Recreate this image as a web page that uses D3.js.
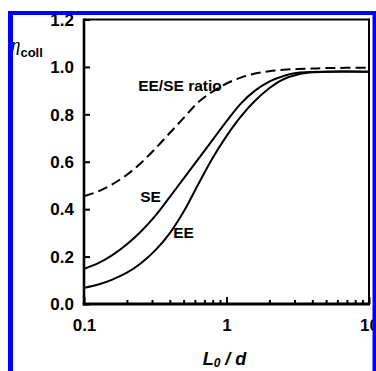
<!DOCTYPE html>
<html>
<head>
<meta charset="utf-8">
<script src="https://cdn.jsdelivr.net/npm/d3@7"></script>
<style>
  html, body { margin: 0; padding: 0; background: #fff; }
  svg { display: block; }
</style>
</head>
<body>
<svg id="chart" width="376" height="371"></svg>
<script>
// ---- data ----
const xValues = [0.1, 0.126, 0.158, 0.2, 0.251, 0.316, 0.398, 0.501, 0.631, 0.794, 1.0, 1.259, 1.585, 1.995, 2.512, 3.162, 3.981, 5.012, 10];
const seValues    = [0.148, 0.172, 0.206, 0.252, 0.306, 0.372, 0.45, 0.53, 0.61, 0.69, 0.77, 0.845, 0.90, 0.938, 0.962, 0.975, 0.979, 0.98, 0.98];
const eeValues    = [0.068, 0.082, 0.103, 0.132, 0.172, 0.226, 0.297, 0.39, 0.503, 0.613, 0.708, 0.79, 0.857, 0.91, 0.948, 0.968, 0.977, 0.98, 0.98];
const ratioValues = [0.455, 0.475, 0.505, 0.545, 0.595, 0.655, 0.72, 0.785, 0.85, 0.895, 0.93, 0.955, 0.972, 0.982, 0.988, 0.991, 0.993, 0.995, 0.997];
const xMajorTicks = [0.1, 1, 10];
const xTickLabels = ["0.1", "1", "10"];
const xMinorTicks = [0.2,0.3,0.4,0.5,0.6,0.7,0.8,0.9,2,3,4,5,6,7,8,9];
const yTicks = [0, 0.2, 0.4, 0.6, 0.8, 1.0, 1.2];
const yTickLabels = ["0.0","0.2","0.4","0.6","0.8","1.0","1.2"];
const curveLabels = [
  {text: "EE/SE ratio", x: 0.24, y: 0.90},
  {text: "SE", x: 0.248, y: 0.431},
  {text: "EE", x: 0.423, y: 0.279}
];

// ---- layout ----
const svg = d3.select("#chart");
const L = 84, R = 369, T = 19.5, B = 304;
const x = d3.scaleLog().domain([0.1, 10]).range([L, R]);
const y = d3.scaleLinear().domain([0, 1.2]).range([B, T]);
const sans = "'Liberation Sans', Arial, Helvetica, sans-serif";

// axes
const gy = svg.append("g").attr("transform", `translate(${L},0)`)
  .call(d3.axisLeft(y).tickValues(yTicks).tickSize(-6).tickFormat((d,i)=>yTickLabels[i]));
gy.select(".domain").remove();
gy.selectAll(".tick line").attr("stroke", "#000").attr("stroke-width", 2);
gy.selectAll(".tick text").attr("x", -10).attr("dy", "0.34em")
  .attr("font-family", sans).attr("font-weight", "bold").attr("font-size", 17).attr("fill", "#000");

const gx = svg.append("g").attr("transform", `translate(0,${B})`)
  .call(d3.axisBottom(x).tickValues(xMajorTicks).tickSize(-7).tickFormat((d,i)=>xTickLabels[i]));
gx.select(".domain").remove();
gx.selectAll(".tick line").attr("stroke", "#000").attr("stroke-width", 2);
gx.selectAll(".tick text").attr("y", 27).attr("dy", 0)
  .attr("font-family", sans).attr("font-weight", "bold").attr("font-size", 17).attr("fill", "#000");

const gxm = svg.append("g").attr("transform", `translate(0,${B})`)
  .call(d3.axisBottom(x).tickValues(xMinorTicks).tickSize(-4).tickFormat(""));
gxm.select(".domain").remove();
gxm.selectAll(".tick line").attr("stroke", "#000").attr("stroke-width", 2);

// frame
svg.append("line").attr("x1", L).attr("x2", R).attr("y1", T).attr("y2", T).attr("stroke", "#000").attr("stroke-width", 2);
svg.append("line").attr("x1", R).attr("x2", R).attr("y1", T - 1).attr("y2", B).attr("stroke", "#000").attr("stroke-width", 2);
svg.append("line").attr("x1", L).attr("x2", L).attr("y1", T - 1).attr("y2", B + 1.5).attr("stroke", "#000").attr("stroke-width", 2.6);
svg.append("line").attr("x1", L - 1.3).attr("x2", R + 1).attr("y1", B).attr("y2", B).attr("stroke", "#000").attr("stroke-width", 3);

// curves
const line = d3.line().x(d => x(d[0])).y(d => y(d[1])).curve(d3.curveCatmullRom.alpha(0.5));
const series = [
  {ys: seValues, dash: null},
  {ys: eeValues, dash: null},
  {ys: ratioValues, dash: "10,5"}
];
series.forEach(s => {
  svg.append("path")
    .datum(xValues.map((v, i) => [v, s.ys[i]]))
    .attr("d", line)
    .attr("fill", "none")
    .attr("stroke", "#000")
    .attr("stroke-width", 2)
    .attr("stroke-dasharray", s.dash);
});

// curve labels
curveLabels.forEach(c => {
  svg.append("text").attr("x", x(c.x)).attr("y", y(c.y))
    .attr("font-family", sans).attr("font-weight", "bold").attr("font-size", 15.5)
    .attr("fill", "#000").text(c.text);
});

// y axis title
const yt = svg.append("text").attr("x", 11).attr("y", 51).attr("fill", "#000");
yt.append("tspan").attr("font-family", "'Liberation Serif', 'Times New Roman', serif")
  .attr("font-style", "italic").attr("font-size", 19).text("η");
yt.append("tspan").attr("font-family", sans).attr("font-weight", "bold")
  .attr("font-size", 13).attr("dy", 6).attr("dx", 0).text("coll");

// x axis title
const xt = svg.append("text").attr("x", (L + R) / 2 - 2).attr("y", 365).attr("text-anchor", "middle")
  .attr("font-family", sans).attr("font-weight", "bold").attr("font-style", "italic").attr("font-size", 18).attr("fill", "#000");
xt.append("tspan").text("L");
xt.append("tspan").attr("font-size", 12).attr("dy", 2).text("0");
xt.append("tspan").attr("dy", -2).text(" / d");

// blue border
svg.append("rect").attr("x", 8).attr("y", 11).attr("width", 5).attr("height", 371).attr("fill", "#0000ff");
svg.append("rect").attr("x", 8).attr("y", 11).attr("width", 368).attr("height", 4).attr("fill", "#0000ff");
svg.append("rect").attr("x", 372.5).attr("y", 11).attr("width", 4).attr("height", 371).attr("fill", "#0000ff");
</script>
</body>
</html>
